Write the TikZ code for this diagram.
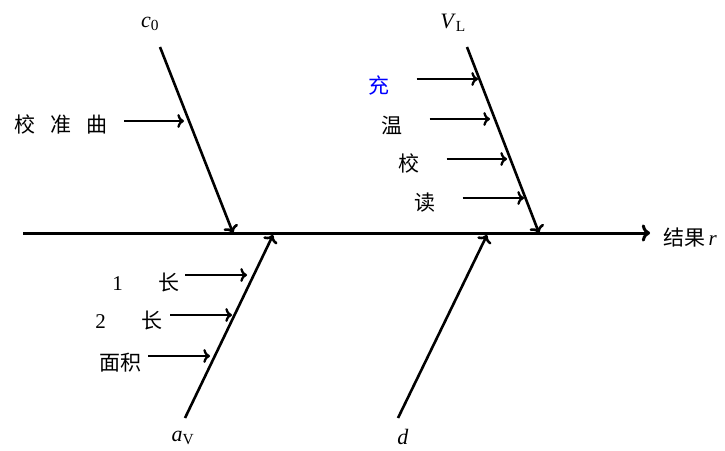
\documentclass[tikz,border=0pt]{standalone}
\usepackage{fontspec}
\setmainfont{Liberation Serif}
\newfontfamily\cjk{Noto Sans CJK SC}
\usetikzlibrary{positioning, calc, arrows.meta}

\begin{document}
\begin{tikzpicture}[x=1pt, y=-1pt, line width=2.3pt,
  var/.style={font=\fontsize{22}{24}\selectfont, inner sep=0pt},
  cause/.style={font=\cjk\fontsize{21}{23}\selectfont, inner sep=0pt},
  bone/.style={->, line width=2.6pt}]
\useasboundingbox (0,0) rectangle (725,450);

% spine
\coordinate (tail) at (23,233);
\node[cause, anchor=west] (res) at (662,238) {结果\,{\rmfamily\itshape r}};
\draw[bone, line width=3pt, shorten >=12pt] (tail) -- (tail -| res.west);

% upper bones
\node[var] (c0) at (150,24) {\textit{c}\textsubscript{0}};
\coordinate (c0top) at (160,47); \coordinate (c0foot) at (233,233);
\draw[bone] (c0top) -- (c0foot);
\node[var] (VL) at (453,23) {\textit{V}\textsubscript{L}};
\coordinate (VLtop) at (467,47); \coordinate (VLfoot) at (539,233);
\draw[bone] (VLtop) -- (VLfoot);

% lower bones
\node[var] (aV) at (183,438) {\textit{a}\textsubscript{V}};
\coordinate (aVbot) at (185,418); \coordinate (aVfoot) at (273,235);
\draw[bone] (aVbot) -- (aVfoot);
\node[var] (d) at (403,437) {\textit{d}};
\coordinate (dbot) at (398,418); \coordinate (dfoot) at (487,235);
\draw[bone] (dbot) -- (dfoot);

% causes on c0
\node[cause] (curve) at (61,124) {校\hspace{15.5pt}准\hspace{15.5pt}曲};
\coordinate (curveT) at (184,121);
\draw[->, shorten <=15pt] (curve.east |- curveT) -- (curveT);

% causes on VL
\node[cause, text=blue] (fill) at (379,85) {充};
\node[cause] (temp) at (392,125) {温};
\node[cause] (calib) at (409,163) {校};
\node[cause] (read) at (425,203) {读};
\coordinate (fillT) at (478,79); \coordinate (tempT) at (490,119);
\coordinate (calibT) at (507,159); \coordinate (readT) at (524,198);
\draw[->, shorten <=26pt] (fill.east |- fillT) -- (fillT);
\draw[->, shorten <=26pt] (temp.east |- tempT) -- (tempT);
\draw[->, shorten <=26pt] (calib.east |- calibT) -- (calibT);
\draw[->, shorten <=26pt] (read.east |- readT) -- (readT);

% causes on aV
\node[cause, anchor=east] (len1) at (181,283) {{\rmfamily 1}\hspace{36pt}长};
\node[cause, anchor=east] (len2) at (164,321) {{\rmfamily 2}\hspace{36pt}长};
\node[cause] (area) at (120,363) {面积};
\coordinate (len1T) at (247,275); \coordinate (len2T) at (232,315);
\coordinate (areaT) at (210,356);
\draw[->, shorten <=4pt] (len1.east |- len1T) -- (len1T);
\draw[->, shorten <=6pt] (len2.east |- len2T) -- (len2T);
\draw[->, shorten <=6pt] (area.east |- areaT) -- (areaT);
\end{tikzpicture}
\end{document}
